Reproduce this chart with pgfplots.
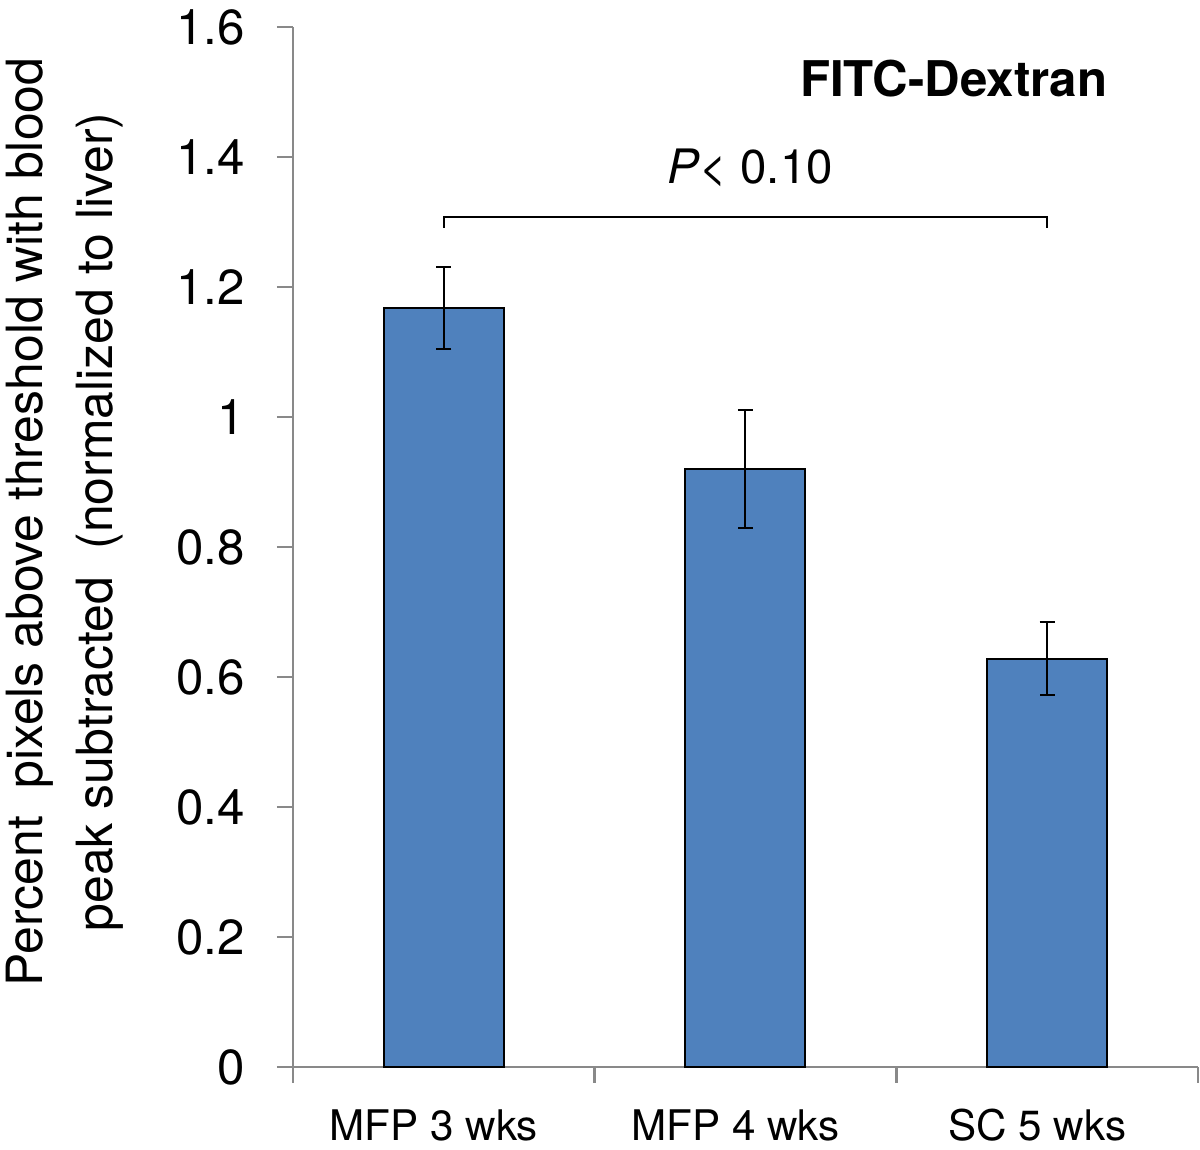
\documentclass[border=0pt]{standalone}
\usepackage{fontspec}
\setmainfont{TeX Gyre Heros}
\usepackage{pgfplots}
\pgfplotsset{compat=1.18}
\definecolor{barblue}{HTML}{4F81BD}
\definecolor{axgray}{HTML}{898989}
\begin{document}
\begin{tikzpicture}
\begin{axis}[
  scale only axis,
  width=90.5mm, height=104mm,
  xmin=-0.5, xmax=2.5, ymin=0, ymax=1.6,
  axis x line*=bottom, axis y line*=left,
  axis line style={axgray, line width=0.25mm},
  tick style={axgray, line width=0.25mm},
  tick align=outside,
  major tick length=1.6mm,
  ytick={0,0.2,...,1.6},
  yticklabels={0,0.2,0.4,0.6,0.8,1,1.2,1.4,1.6},
  xtick={-0.5,0.5,1.5,2.5},
  xticklabels={},
  extra x ticks={0,1,2},
  extra x tick labels={MFP 3 wks, MFP 4 wks, SC 5 wks},
  extra x tick style={major tick length=0pt, tick label style={font=\fontsize{12}{15}\selectfont, yshift=-3mm, xshift=-1mm}},
  /pgf/number format/assume math mode=true,
  yticklabel style={font=\fontsize{14}{16}\selectfont, xshift=-2mm},
  clip=false,
]
\addplot[ybar, bar width=12mm, fill=barblue, draw=black, line width=0.2mm,
  error bars/.cd, y dir=both, y explicit,
  error bar style={black, line width=0.2mm},
  error mark options={rotate=90, mark size=0.75mm, line width=0.2mm, black}]
  coordinates {
    (0,1.168) +- (0,0.063)
    (1,0.920) +- (0,0.091)
    (2,0.628) +- (0,0.056)
  };
\draw[black, line width=0.2mm] (axis cs:0,1.291) -- (axis cs:0,1.308) -- (axis cs:2,1.308) -- (axis cs:2,1.291);
\node[font=\fontsize{13.5}{16}\selectfont] at (axis cs:1.015,1.383) {\textit{P}< 0.10};
\node[font=\bfseries\fontsize{14}{16}\selectfont] at (axis cs:1.69,1.52) {FITC-Dextran};
\node[rotate=90, align=center, font=\fontsize{14.2}{20}\selectfont] at (rel axis cs:-0.252,0.524)
  {Percent\ \ pixels above threshold with blood\\peak subtracted\ \ (normalized to liver)};
\end{axis}
\pgfresetboundingbox
\path[use as bounding box] ([shift={(-29.3mm,-8.3mm)}]current axis.south west) rectangle ([shift={(0.2mm,2.7mm)}]current axis.north east);
\end{tikzpicture}
\end{document}
